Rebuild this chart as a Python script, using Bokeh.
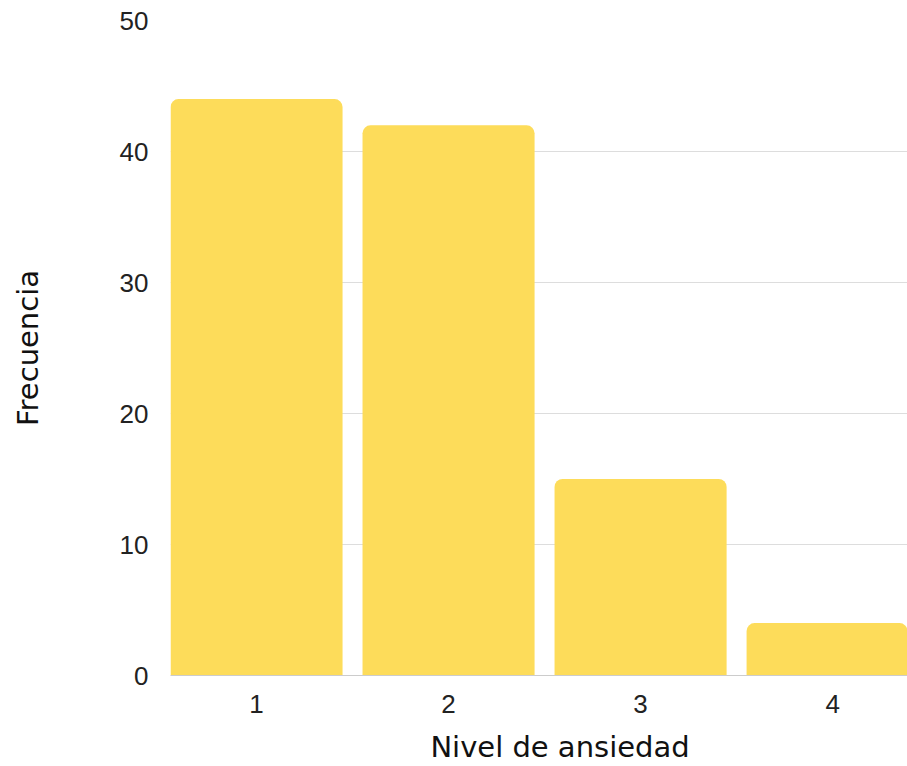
from bokeh.plotting import figure
from bokeh.models import Range1d, FixedTicker, Div
from bokeh.layouts import column
from bokeh.embed import file_html
from bokeh.resources import INLINE

# Frequency of each anxiety level
levels = [1, 2, 3, 4]
counts = [44, 42, 15, 4]
y_ticks = [0, 10, 20, 30, 40, 50]
x_title = "Nivel de ansiedad"
y_title = "Frecuencia"

p = figure(
    width=907, height=729,
    x_range=Range1d(0.552, 4.39),
    y_range=Range1d(0, 50),
    output_backend="svg", toolbar_location=None,
    min_border_left=170, min_border_right=0,
    min_border_top=20, min_border_bottom=54,
)
p.outline_line_color = None
p.background_fill_color = "white"

p.vbar(x=levels, top=counts, width=0.896, bottom=0,
       fill_color="#FDDC5A", line_color=None,
       border_radius=(8, 8, 0, 0))

# x axis
p.xaxis.ticker = FixedTicker(ticks=levels)
p.xaxis.axis_line_color = "#cccccc"
p.xaxis.major_tick_line_color = None
p.xaxis.major_tick_out = 0
p.xaxis.minor_tick_line_color = None
p.xaxis.minor_tick_out = 0
p.xaxis.major_label_text_font = "Liberation Sans"
p.xaxis.major_label_text_font_size = "26px"
p.xaxis.major_label_text_color = "#222222"
p.xaxis.major_label_standoff = 19

# y axis
p.yaxis.ticker = FixedTicker(ticks=y_ticks)
p.yaxis.axis_line_color = None
p.yaxis.major_tick_line_color = None
p.yaxis.major_tick_out = 0
p.yaxis.minor_tick_line_color = None
p.yaxis.minor_tick_out = 0
p.yaxis.major_label_text_font = "Liberation Sans"
p.yaxis.major_label_text_font_size = "26px"
p.yaxis.major_label_text_color = "#222222"
p.yaxis.major_label_standoff = 22
p.yaxis.axis_label = y_title
p.yaxis.axis_label_text_font = "DejaVu Sans"
p.yaxis.axis_label_text_font_style = "normal"
p.yaxis.axis_label_text_font_size = "29px"
p.yaxis.axis_label_text_color = "#111111"
p.yaxis.axis_label_standoff = 72

p.xgrid.grid_line_color = None
p.ygrid.grid_line_color = "#dddddd"
p.ygrid.grid_line_width = 1

# x axis title under the chart
title_div = Div(
    text=x_title, width=694, height=37, margin=(0, 0, 0, 213),
    styles={
        "font-family": "'DejaVu Sans'", "font-size": "29px",
        "line-height": "37px", "color": "#111111",
        "text-align": "center", "white-space": "nowrap",
    },
)

layout = column(p, title_div, spacing=0)
open("out.html", "w").write(file_html(layout, INLINE))
